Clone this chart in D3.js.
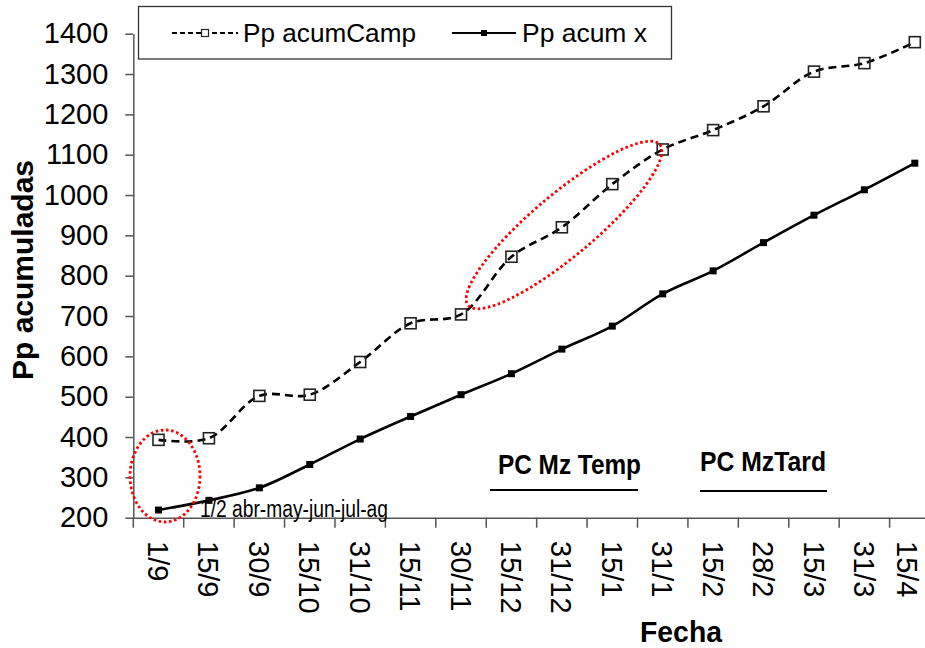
<!DOCTYPE html>
<html>
<head>
<meta charset="utf-8">
<script src="https://cdn.jsdelivr.net/npm/d3@7"></script>
<style>
  html, body { margin: 0; padding: 0; background: #fff; }
  svg { display: block; font-family: "Liberation Sans", Arial, sans-serif; }
</style>
</head>
<body>
<svg id="chart" width="925" height="648"></svg>
<script>
// Fechas de lectura (eje X)
const fechas = ["1/9", "15/9", "30/9", "15/10", "31/10", "15/11", "30/11", "15/12",
                "31/12", "15/1", "31/1", "15/2", "28/2", "15/3", "31/3", "15/4"];
// Precipitación acumulada de la campaña
const ppAcumCamp = [393, 397, 502, 505, 586, 682, 704, 847, 920, 1027, 1113, 1161, 1220, 1306, 1327, 1379];
// Precipitación acumulada media
const ppAcumX = [219, 243, 274, 332, 395, 451, 505, 557, 618, 675, 755, 812, 882, 950, 1013, 1079];
// Marcas del eje Y
const yTicks = [200, 300, 400, 500, 600, 700, 800, 900, 1000, 1100, 1200, 1300, 1400];

const serieCamp = "Pp acumCamp";
const serieX = "Pp acum x";
const tituloY = "Pp acumuladas";
const tituloX = "Fecha";
const notaTemp = "PC Mz Temp";
const notaTard = "PC MzTard";
const notaInicio = "1/2 abr-may-jun-jul-ag";

const svg = d3.select("#chart");

const x0 = 133.3, step = 50.42;
const x = d3.scaleBand().domain(fechas).range([x0, x0 + step * fechas.length]).padding(0);
const y = d3.scaleLinear().domain([200, 1400]).range([517.7, 33.7]);
const cx = d => x(d) + x.bandwidth() / 2;

const axisColor = "#555";

// Eje Y
const gy = svg.append("g").attr("transform", `translate(${x0},0)`)
  .call(d3.axisLeft(y).tickValues(yTicks).tickFormat(d3.format("d"))
    .tickSize(8).tickSizeOuter(0).tickPadding(17));
gy.select(".domain").attr("stroke", axisColor).attr("stroke-width", 1.5);
gy.selectAll(".tick line").attr("stroke", axisColor).attr("stroke-width", 1.5);
gy.selectAll(".tick text").attr("font-size", 29).attr("fill", "#000")
  .attr("font-family", "Liberation Sans, Arial, sans-serif");

// Eje X: etiquetas verticales, marcas entre categorías
const gx = svg.append("g").attr("transform", `translate(0,${y(200)})`)
  .call(d3.axisBottom(x).tickSize(0).tickSizeOuter(0).tickFormat(""));
gx.select(".domain").attr("stroke", axisColor).attr("stroke-width", 1.5);
gx.selectAll(".sep").data(fechas).enter().append("line")
  .attr("class", "sep")
  .attr("x1", d => x(d)).attr("x2", d => x(d))
  .attr("y1", 0).attr("y2", 10)
  .attr("stroke", axisColor).attr("stroke-width", 1.5);
// la última etiqueta se acerca al borde: se limita su posición para que quepa
svg.append("g").selectAll("text").data(fechas).enter().append("text")
  .attr("transform", d => `translate(${Math.min(cx(d), 907)},541) rotate(90)`)
  .attr("dy", "0.36em")
  .attr("text-anchor", "start")
  .attr("font-size", 29)
  .text(d => d);

// Títulos de ejes
svg.append("text")
  .attr("transform", "translate(33,270) rotate(-90)")
  .attr("text-anchor", "middle")
  .attr("font-size", 30).attr("font-weight", "bold")
  .text(tituloY);
svg.append("text")
  .attr("x", 640).attr("y", 641.5)
  .attr("font-size", 30).attr("font-weight", "bold")
  .attr("textLength", 82).attr("lengthAdjust", "spacingAndGlyphs")
  .text(tituloX);

// Anotaciones de períodos críticos
svg.append("text").attr("x", 498).attr("y", 474)
  .attr("font-size", 28).attr("font-weight", "bold")
  .attr("textLength", 143).attr("lengthAdjust", "spacingAndGlyphs")
  .text(notaTemp);
svg.append("line").attr("x1", 490).attr("x2", 638).attr("y1", 490).attr("y2", 490)
  .attr("stroke", "#000").attr("stroke-width", 2);
svg.append("text").attr("x", 700).attr("y", 471)
  .attr("font-size", 28).attr("font-weight", "bold")
  .attr("textLength", 126).attr("lengthAdjust", "spacingAndGlyphs")
  .text(notaTard);
svg.append("line").attr("x1", 700).attr("x2", 827).attr("y1", 491).attr("y2", 491)
  .attr("stroke", "#000").attr("stroke-width", 2);

// Series
const line = d3.line().x(d => cx(d.f)).y(d => y(d.v)).curve(d3.curveCatmullRom.alpha(0.5));
const datosCamp = fechas.map((f, i) => ({ f, v: ppAcumCamp[i] }));
const datosX = fechas.map((f, i) => ({ f, v: ppAcumX[i] }));

svg.append("path").datum(datosX).attr("d", line)
  .attr("fill", "none").attr("stroke", "#000").attr("stroke-width", 2.6);
svg.append("g").selectAll("rect").data(datosX).enter().append("rect")
  .attr("x", d => cx(d.f) - 3.5).attr("y", d => y(d.v) - 3.5)
  .attr("width", 7).attr("height", 7).attr("fill", "#000");

svg.append("path").datum(datosCamp).attr("d", line)
  .attr("fill", "none").attr("stroke", "#000").attr("stroke-width", 2.6)
  .attr("stroke-dasharray", "8,5");
svg.append("g").selectAll("rect").data(datosCamp).enter().append("rect")
  .attr("x", d => cx(d.f) - 5.5).attr("y", d => y(d.v) - 5.5)
  .attr("width", 11).attr("height", 11)
  .attr("fill", "none").attr("stroke", "#222").attr("stroke-width", 1.6);

// Texto de la nota inicial
svg.append("text").attr("x", 200).attr("y", 516.5)
  .attr("font-size", 23)
  .attr("textLength", 188).attr("lengthAdjust", "spacingAndGlyphs")
  .text(notaInicio);

// Elipses punteadas rojas
const dotted = sel => sel.attr("fill", "none").attr("stroke", "#ff0000")
  .attr("stroke-width", 2.8).attr("stroke-dasharray", "2.6,2.6");
svg.append("ellipse").attr("cx", 165).attr("cy", 476).attr("rx", 35).attr("ry", 46).call(dotted);
svg.append("ellipse").attr("transform", "translate(564,225) rotate(-40)")
  .attr("rx", 125).attr("ry", 31).call(dotted);

// Leyenda
const lg = svg.append("g");
lg.append("rect").attr("x", 138.5).attr("y", 6.5).attr("width", 533).attr("height", 52.5)
  .attr("fill", "#fff").attr("stroke", "#333").attr("stroke-width", 1.3);
lg.append("line").attr("x1", 172).attr("x2", 238).attr("y1", 33).attr("y2", 33)
  .attr("stroke", "#000").attr("stroke-width", 1.8).attr("stroke-dasharray", "5,3");
lg.append("rect").attr("x", 201.5).attr("y", 29.5).attr("width", 7).attr("height", 7)
  .attr("fill", "#fff").attr("stroke", "#222").attr("stroke-width", 1.2);
lg.append("text").attr("x", 243).attr("y", 41.5).attr("font-size", 25)
  .attr("textLength", 173).attr("lengthAdjust", "spacingAndGlyphs").text(serieCamp);
lg.append("line").attr("x1", 452).attr("x2", 516).attr("y1", 33).attr("y2", 33)
  .attr("stroke", "#000").attr("stroke-width", 2);
lg.append("rect").attr("x", 481).attr("y", 30).attr("width", 6).attr("height", 6).attr("fill", "#000");
lg.append("text").attr("x", 522).attr("y", 41.5).attr("font-size", 25)
  .attr("textLength", 125).attr("lengthAdjust", "spacingAndGlyphs").text(serieX);
</script>
</body>
</html>
